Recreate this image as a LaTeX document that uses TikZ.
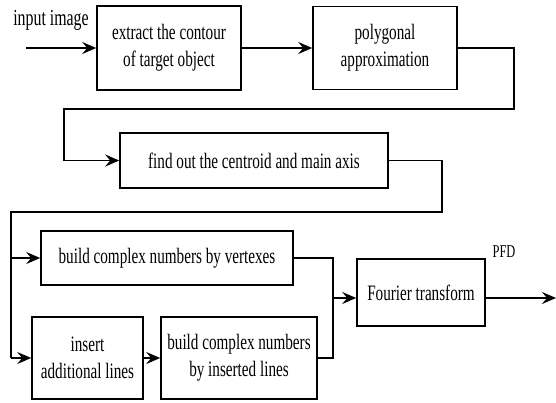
\documentclass[tikz,border=0pt]{standalone}
\usepackage{fontspec}
\setmainfont{Liberation Serif}[FakeStretch=0.69]
\usetikzlibrary{arrows.meta}
\begin{document}
\begin{tikzpicture}[x=1pt,y=-1pt,
  box/.style={draw,line width=1.6pt,inner sep=0pt,align=center,font=\fontsize{22}{27}\selectfont},
  conn/.style={line width=1.6pt},
  arr/.style={conn,-{Stealth[length=14pt,width=12pt,inset=5pt]}},
  lbl/.style={inner sep=0pt,font=\fontsize{23}{24}\selectfont}]
\useasboundingbox (0,0) rectangle (556,402);
\node[box,minimum width=144pt,minimum height=84pt] (b1) at (169,48) {extract the contour\\of target object};
\node[box,minimum width=144pt,minimum height=83pt] (b2) at (385,48) {polygonal\\approximation};
\node[box,minimum width=268pt,minimum height=55pt] (b3) at (254,160.5) {find out the centroid and main axis};
\node[box,minimum width=252pt,minimum height=54pt] (b4) at (167,258) {build complex numbers by vertexes};
\node[box,minimum width=111pt,minimum height=82pt] (b5) at (87.5,358) {insert\\additional lines};
\node[box,minimum width=156pt,minimum height=82pt] (b6) at (239,358) {build complex numbers\\by inserted lines};
\node[box,minimum width=128pt,minimum height=67pt] (b7) at (421,292.5) {Fourier transform};
\node[lbl] (in) at (51,20) {input image};
\node[lbl,font=\fontsize{18}{20}\selectfont] (pfd) at (504,252) {PFD};
\coordinate (s) at (26,48);
\coordinate (c1) at (514,48);
\coordinate (c2) at (514,109);
\coordinate (c3) at (64,109);
\coordinate (c4) at (442,160.5);
\coordinate (c5) at (442,212);
\coordinate (c6) at (11,212);
\coordinate (c7) at (11,358);
\coordinate (c8) at (11,258);
\coordinate (j) at (333,298);
\coordinate (e) at (556,298);
\draw[arr] (s) -- (b1.west);
\draw[arr] (b1.east) -- (b1.east -| b2.west);
\draw[arr] (b2.east) -- (c1) -- (c2) -- (c3) |- (b3.west);
\draw[conn] (b3.east) -- (c4) -- (c5) -- (c6) -- (c7);
\draw[arr] (c8) -- (b4.west);
\draw[arr] (c7) -- (b5.west);
\draw[arr] (b5.east) -- (b6.west);
\draw[conn] (b4.east) -| (j);
\draw[conn] (b6.east) -| (j);
\draw[arr] (j) -- (j -| b7.west);
\draw[arr] (j -| b7.east) -- (e);
\end{tikzpicture}
\end{document}
